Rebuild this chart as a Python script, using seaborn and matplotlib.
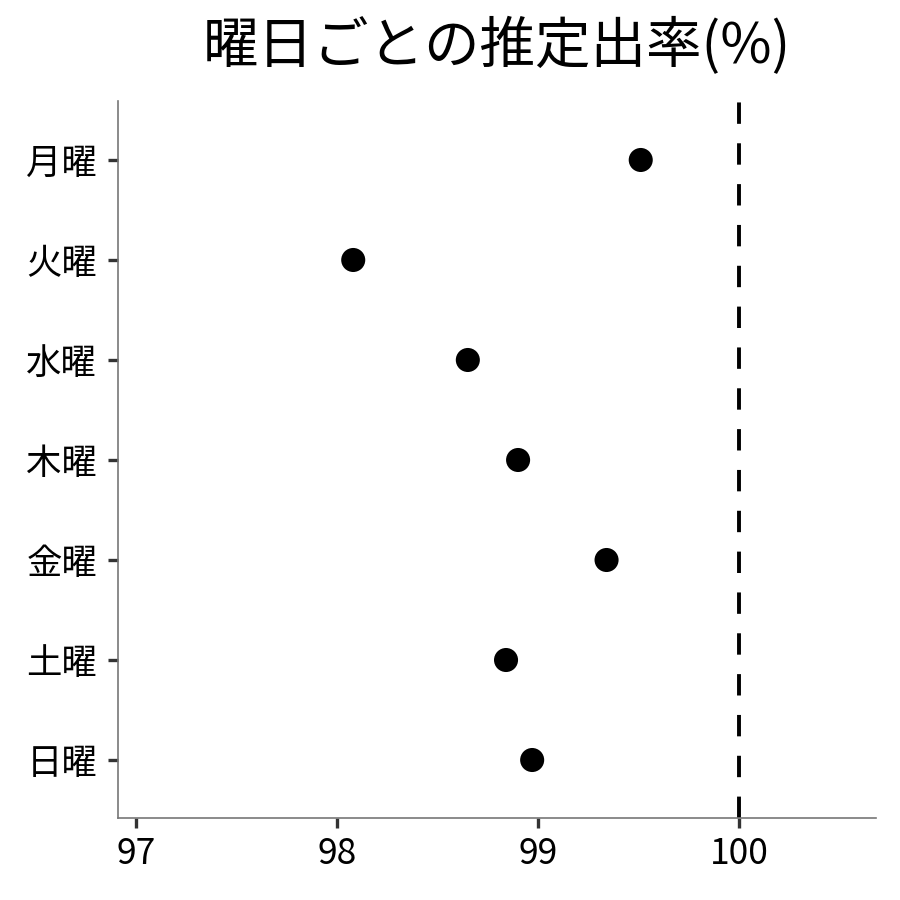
import matplotlib
matplotlib.use("Agg")
import matplotlib.pyplot as plt
import seaborn as sns
import pandas as pd

# data
days = ["月曜", "火曜", "水曜", "木曜", "金曜", "土曜", "日曜"]
rates = [99.51, 98.08, 98.65, 98.90, 99.34, 98.84, 98.97]
x_ticks = [97, 98, 99, 100]
ref_line = 100

df = pd.DataFrame({"day": days, "rate": rates})

sns.set_style("white")
plt.rcParams["font.family"] = ["Noto Sans CJK JP", "DejaVu Sans"]
plt.rcParams["text.color"] = "black"

fig = plt.figure(figsize=(9, 9), dpi=100)
ax = fig.add_axes([0.1311, 0.0911, 0.8422, 0.7967])

sns.scatterplot(data=df, x="rate", y="day", ax=ax, color="black",
                s=300, edgecolor="none", zorder=3)
ax.axvline(ref_line, color="black", linestyle=(0, (5.5, 5)), linewidth=2.8)

ax.set_xlim(96.91, 100.68)
ax.set_ylim(6.58, -0.59)
ax.set_xticks(x_ticks)
ax.set_xticklabels([str(v) for v in x_ticks])
ax.set_xlabel("")
ax.set_ylabel("")
ax.set_title("曜日ごとの推定出率(%)", fontsize=40, pad=27, color="black")

ax.tick_params(axis="y", labelsize=25.5, length=7, width=2.4,
               color="#333333", labelcolor="black", pad=8, left=True)
ax.tick_params(axis="x", labelsize=25.5, length=7, width=2.4,
               color="#333333", labelcolor="black", pad=6, bottom=True)
sns.despine(ax=ax)
for side in ["left", "bottom"]:
    ax.spines[side].set_color("#777777")
    ax.spines[side].set_linewidth(1.2)

fig.savefig("out.png", dpi=100)
plt.close(fig)
